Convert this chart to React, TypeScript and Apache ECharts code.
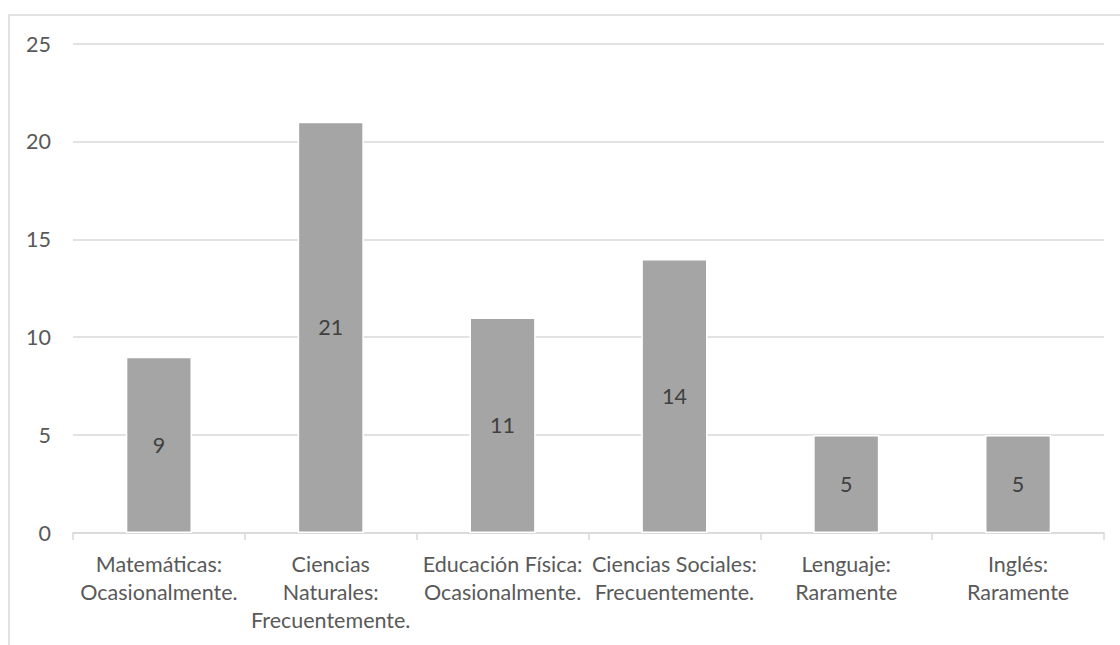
import React, { useEffect, useRef } from "react";
import * as echarts from "echarts";

const categories = [
  "Matemáticas:\nOcasionalmente.",
  "Ciencias\nNaturales:\nFrecuentemente.",
  "Educación Física:\nOcasionalmente.",
  "Ciencias Sociales:\nFrecuentemente.",
  "Lenguaje:\nRaramente",
  "Inglés:\nRaramente",
];
const values = [9, 21, 11, 14, 5, 5];
const yTicks = { min: 0, max: 25, interval: 5 };

export default function App() {
  const ref = useRef<HTMLDivElement>(null);
  useEffect(() => {
    if (!ref.current) return;
    const chart = echarts.init(ref.current, undefined, { renderer: "svg" });
    const font = "Lato, 'Open Sans', sans-serif";
    chart.setOption({
      animation: false,
      backgroundColor: "#ffffff",
      textStyle: { fontFamily: font },
      graphic: [
        {
          type: "rect",
          shape: { x: 9, y: 15, width: 1300, height: 1000 },
          style: { fill: "none", stroke: "#d9d9d9", lineWidth: 1.5 },
          silent: true,
        },
      ],
      grid: { left: 73, right: 16, top: 43.5, bottom: 112, containLabel: false },
      xAxis: {
        type: "category",
        data: categories,
        axisLine: { show: true, lineStyle: { color: "#d9d9d9", width: 1.5 } },
        axisTick: { show: true, length: 7, lineStyle: { color: "#d9d9d9", width: 1.5 } },
        axisLabel: {
          color: "#595959",
          fontSize: 21.5,
          fontFamily: font,
          lineHeight: 28,
          margin: 17,
          interval: 0,
        },
      },
      yAxis: {
        type: "value",
        min: yTicks.min,
        max: yTicks.max,
        interval: yTicks.interval,
        axisLine: { show: false },
        axisTick: { show: false },
        axisLabel: { color: "#595959", fontSize: 21.5, fontFamily: font, margin: 22 },
        splitLine: { lineStyle: { color: "#d9d9d9", width: 1.5 } },
      },
      series: [
        {
          type: "bar",
          data: values,
          barCategoryGap: "61.5%",
          itemStyle: { color: "#a5a5a5", borderColor: "#ffffff", borderWidth: 1.5 },
          label: {
            show: true,
            position: "inside",
            color: "#404040",
            fontSize: 21.5,
            fontFamily: font,
          },
        },
      ],
    });
    return () => chart.dispose();
  }, []);
  return (
    <div
      ref={ref}
      style={{ position: "fixed", left: 0, top: 0, width: 1120, height: 645 }}
    />
  );
}
